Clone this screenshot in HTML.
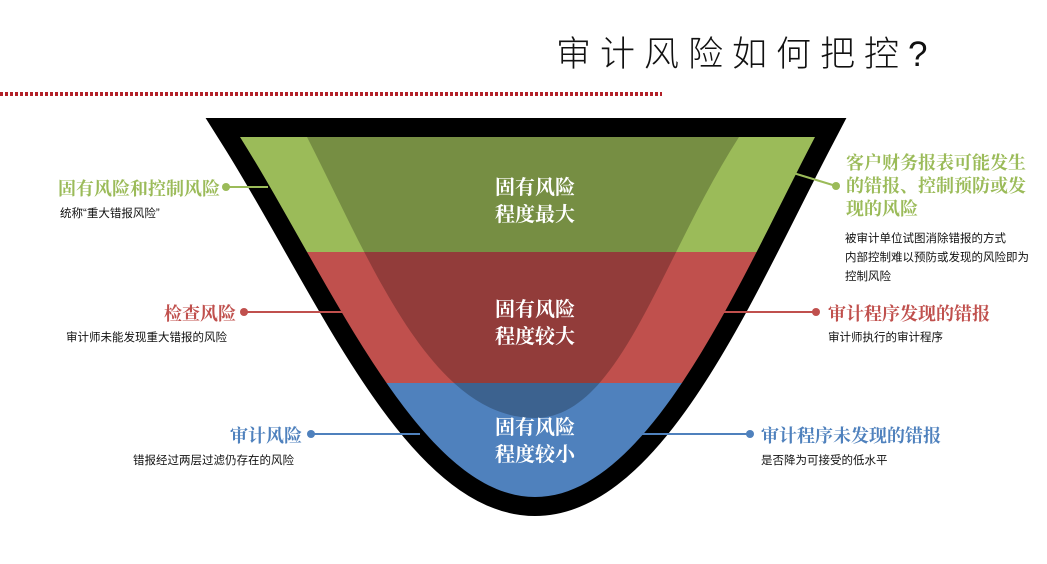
<!DOCTYPE html>
<html><head><meta charset="utf-8"><style>
body{margin:0;width:1047px;height:564px;background:#fff;position:relative;overflow:hidden;font-family:"Liberation Sans","Noto Sans CJK SC",sans-serif}
.t{position:absolute;white-space:nowrap}
.h{font-family:"Liberation Serif","Noto Serif CJK SC",serif;font-weight:bold;font-size:18px}
.s{font-size:11.5px;color:#111}
</style></head><body>
<div class="t" style="left:556px;top:26px;font-size:35px;letter-spacing:9px;color:#111;font-weight:300">审计风险如何把控?</div>
<div style="position:absolute;left:0;top:92px;width:662px;height:4px;background:repeating-linear-gradient(90deg,#b22028 0 3px,transparent 3px 5px)"></div>
<svg width="1047" height="564" style="position:absolute;left:0;top:0">
<defs><clipPath id="c"><path d="M240,137 L815,137 C740,280 650,497 535,497 C420,497 330,280 240,137 Z"/></clipPath></defs>
<path d="M240,137 L815,137 C740,280 650,497 535,497 C420,497 330,280 240,137 Z" fill="#000" stroke="#000" stroke-width="38" stroke-linejoin="miter"/>
<g clip-path="url(#c)">
<rect x="0" y="137" width="1047" height="115" fill="#9bbb59"/>
<rect x="0" y="252" width="1047" height="131" fill="#c0504d"/>
<rect x="0" y="383" width="1047" height="130" fill="#4f81bd"/>
<path d="M307,137 L739,137 C660,260 620,418 535,418 C430,418 370,260 307,137 Z" fill="#000" opacity="0.24"/>
</g>
<g stroke-width="2">
<line x1="226" y1="187" x2="268" y2="187" stroke="#9bbb59"/><circle cx="226" cy="187" r="4" fill="#9bbb59"/>
<line x1="244" y1="312" x2="345" y2="312" stroke="#c0504d"/><circle cx="244" cy="312" r="4" fill="#c0504d"/>
<line x1="311" y1="434" x2="420" y2="434" stroke="#4f81bd"/><circle cx="311" cy="434" r="4" fill="#4f81bd"/>
<line x1="790" y1="172" x2="836" y2="186" stroke="#9bbb59"/><circle cx="836" cy="186" r="4" fill="#9bbb59"/>
<line x1="716" y1="312" x2="816" y2="312" stroke="#c0504d"/><circle cx="816" cy="312" r="4" fill="#c0504d"/>
<line x1="631" y1="434" x2="750" y2="434" stroke="#4f81bd"/><circle cx="750" cy="434" r="4" fill="#4f81bd"/>
</g>
</svg>
<div class="t h" style="left:435px;width:200px;text-align:center;top:175px;color:#fff;font-size:20px;line-height:27px">固有风险<br>程度最大</div>
<div class="t h" style="left:435px;width:200px;text-align:center;top:297px;color:#fff;font-size:20px;line-height:27px">固有风险<br>程度较大</div>
<div class="t h" style="left:435px;width:200px;text-align:center;top:415px;color:#fff;font-size:20px;line-height:27px">固有风险<br>程度较小</div>

<div class="t h" style="right:827px;top:175px;color:#9bbb59">固有风险和控制风险</div>
<div class="t s" style="left:60px;top:205px">统称“重大错报风险”</div>
<div class="t h" style="right:811px;top:300px;color:#c0504d">检查风险</div>
<div class="t s" style="left:66px;top:329px">审计师未能发现重大错报的风险</div>
<div class="t h" style="right:745px;top:422px;color:#4f81bd">审计风险</div>
<div class="t s" style="left:133px;top:452px">错报经过两层过滤仍存在的风险</div>

<div class="t h" style="left:846px;top:152px;color:#9bbb59;line-height:23px">客户财务报表可能发生<br>的错报、控制预防或发<br>现的风险</div>
<div class="t s" style="left:845px;top:230px;line-height:19px">被审计单位试图消除错报的方式<br>内部控制难以预防或发现的风险即为<br>控制风险</div>
<div class="t h" style="left:828px;top:300px;color:#c0504d">审计程序发现的错报</div>
<div class="t s" style="left:828px;top:329px">审计师执行的审计程序</div>
<div class="t h" style="left:761px;top:422px;color:#4f81bd">审计程序未发现的错报</div>
<div class="t s" style="left:761px;top:452px">是否降为可接受的低水平</div>
</body></html>
